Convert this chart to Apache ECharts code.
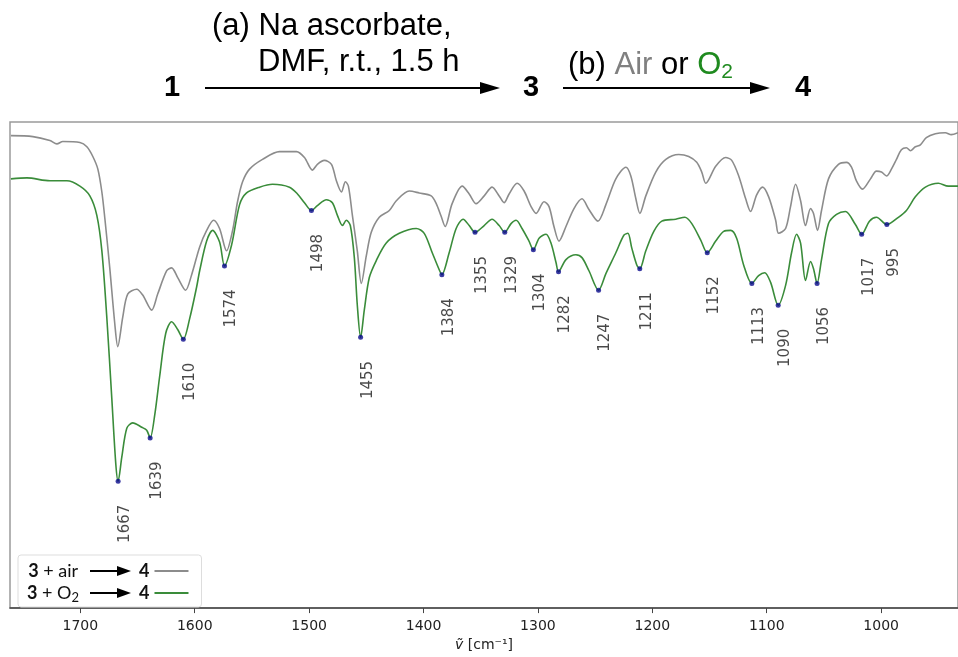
<!DOCTYPE html>
<html>
<head>
<meta charset="utf-8">
<script src="https://cdn.jsdelivr.net/npm/echarts@6/dist/echarts.min.js"></script>
<style>
html, body { margin: 0; padding: 0; background: #fff; }
#chart { width: 958px; height: 657px; }
</style>
</head>
<body>
<div id="chart"></div>
<script>
// 光谱数据：3 + air -> 4
var airWn = [1760.7, 1741.5, 1726.6, 1720.5, 1715.3, 1700.4, 1694.3, 1689.1, 1684.7, 1681.2, 1678.6, 1674.3, 1669.9, 1667.3, 1662.9, 1658.6, 1650.7, 1645.5, 1637.6, 1632.4, 1624.5, 1620.2, 1614.9, 1608.0, 1602.7, 1595.7, 1589.6, 1583.5, 1578.3, 1572.2, 1566.9, 1562.6, 1558.2, 1552.1, 1540.8, 1525.9, 1511.1, 1504.1, 1497.1, 1492.8, 1486.7, 1480.5, 1476.2, 1471.8, 1468.3, 1465.7, 1462.2, 1457.9, 1454.4, 1450.0, 1445.7, 1438.7, 1429.9, 1423.8, 1412.5, 1403.8, 1393.3, 1388.9, 1384.6, 1381.1, 1375.0, 1366.2, 1360.1, 1354.0, 1347.0, 1340.1, 1333.9, 1329.6, 1325.2, 1318.2, 1312.1, 1306.0, 1301.6, 1294.7, 1290.3, 1286.0, 1281.6, 1275.5, 1268.5, 1261.5, 1255.4, 1247.6, 1240.6, 1231.9, 1223.1, 1218.8, 1214.4, 1210.9, 1205.7, 1197.0, 1188.2, 1176.9, 1168.2, 1161.2, 1156.8, 1153.3, 1144.6, 1135.9, 1130.6, 1124.5, 1118.4, 1114.1, 1108.8, 1103.6, 1098.3, 1092.2, 1089.6, 1083.5, 1079.2, 1074.8, 1070.4, 1066.1, 1061.7, 1059.1, 1055.6, 1052.1, 1046.0, 1037.3, 1030.3, 1025.9, 1021.6, 1016.3, 1009.3, 1004.1, 999.7, 995.3, 991.0, 986.6, 982.3, 977.9, 974.4, 970.1, 965.7, 960.5, 952.6, 943.9, 938.7, 932.8];
var airT = [97.2, 97.0, 96.2, 95.5, 96.0, 95.8, 94.9, 92.9, 90.3, 85.6, 80.2, 70.0, 58.5, 53.8, 59.9, 64.6, 65.6, 64.4, 61.3, 64.6, 69.4, 70.0, 68.0, 65.4, 68.6, 74.3, 77.7, 79.8, 78.1, 73.5, 77.7, 83.6, 87.7, 90.3, 92.3, 93.9, 93.9, 92.7, 90.1, 91.3, 92.1, 91.3, 87.9, 85.6, 87.7, 86.8, 80.8, 73.5, 66.8, 72.5, 77.3, 80.4, 81.8, 83.8, 85.8, 85.4, 84.8, 83.2, 80.6, 78.5, 83.2, 86.8, 85.2, 83.2, 84.8, 86.6, 84.8, 83.4, 85.2, 87.4, 85.8, 82.6, 81.2, 83.6, 82.6, 78.5, 75.5, 78.5, 82.2, 84.2, 82.0, 79.6, 83.0, 88.3, 90.7, 88.9, 84.2, 81.2, 84.8, 89.7, 92.3, 93.3, 92.9, 91.7, 89.7, 87.4, 90.9, 92.7, 92.1, 88.9, 84.2, 81.6, 85.0, 86.6, 84.6, 79.8, 77.1, 78.1, 82.6, 87.2, 83.8, 78.7, 82.2, 81.2, 77.7, 81.8, 88.3, 91.3, 91.7, 90.7, 87.9, 86.2, 88.3, 89.9, 89.7, 88.9, 90.3, 92.3, 94.3, 94.7, 94.1, 94.9, 95.3, 96.8, 97.6, 97.8, 97.4, 97.8];

// 光谱数据：3 + O2 -> 4
var o2Wn = [1760.7, 1746.7, 1726.6, 1711.8, 1700.4, 1691.7, 1685.6, 1681.2, 1676.9, 1672.5, 1669.0, 1667, 1663.8, 1659.4, 1654.2, 1646.3, 1642.0, 1639, 1635.0, 1630.6, 1625.4, 1620.2, 1614.9, 1610, 1604.5, 1598.4, 1595.7, 1589.6, 1584.4, 1578.3, 1574, 1567.8, 1560.8, 1554.7, 1543.4, 1532.0, 1517.2, 1510.2, 1504.1, 1498, 1492.8, 1484.9, 1479.7, 1475.3, 1470.9, 1467.5, 1464.0, 1460.5, 1457.9, 1455, 1451.8, 1447.4, 1441.3, 1432.6, 1421.2, 1406.4, 1399.4, 1392.4, 1386.3, 1384, 1377.6, 1371.5, 1365.4, 1360.1, 1355, 1347.0, 1340.1, 1333.9, 1329, 1323.5, 1319.1, 1313.9, 1307.8, 1304, 1299.0, 1292.9, 1288.6, 1284.2, 1282, 1275.5, 1266.8, 1261.5, 1255.4, 1247, 1240.6, 1231.9, 1224.9, 1221.4, 1218.0, 1213.6, 1211, 1205.7, 1198.7, 1191.7, 1179.5, 1171.6, 1165.5, 1157.7, 1152, 1144.6, 1137.6, 1131.5, 1126.3, 1120.2, 1113, 1107.1, 1101.8, 1096.6, 1090, 1083.5, 1078.3, 1073.9, 1070.4, 1066.1, 1061.7, 1059.1, 1056, 1052.1, 1046.0, 1039.0, 1031.2, 1022.5, 1017, 1010.2, 1004.1, 995, 984.9, 977.9, 970.1, 961.3, 950.0, 941.3, 932.8];
var o2T = [88.3, 88.5, 87.9, 87.9, 86.8, 84.8, 80.8, 73.5, 59.9, 43.1, 29.6, 26.1, 31.0, 37.0, 38.1, 37.2, 36.6, 35.0, 39.7, 47.8, 56.5, 58.9, 57.3, 55.3, 59.5, 66.0, 69.4, 75.5, 77.7, 75.3, 70.4, 74.7, 83.0, 85.4, 86.6, 87.2, 86.6, 85.2, 83.4, 81.8, 82.8, 84.0, 83.4, 80.8, 78.7, 79.8, 78.7, 72.1, 62.3, 55.7, 61.3, 68.0, 71.5, 75.1, 77.1, 78.1, 77.1, 73.1, 69.6, 68.6, 73.1, 78.1, 80.0, 78.7, 77.3, 78.7, 80.0, 78.7, 77.3, 79.1, 79.8, 78.1, 75.5, 73.7, 76.1, 76.9, 75.1, 71.1, 69.2, 71.7, 72.7, 72.1, 69.4, 65.4, 68.8, 73.1, 76.7, 77.1, 74.1, 70.6, 69.8, 73.5, 77.5, 79.6, 80.0, 80.4, 79.1, 75.7, 73.1, 75.5, 77.5, 77.7, 76.1, 70.6, 66.8, 68.4, 69.0, 67.0, 62.3, 66.4, 73.1, 76.9, 75.1, 67.4, 71.3, 69.8, 66.8, 71.7, 79.1, 81.0, 81.6, 78.9, 76.9, 79.6, 80.4, 78.9, 80.4, 81.8, 84.6, 86.6, 87.4, 86.8, 86.8];

// 标注的峰位
var peakWn = [1667, 1639, 1610, 1574, 1498, 1455, 1384, 1355, 1329, 1304, 1282, 1247, 1211, 1152, 1113, 1090, 1056, 1017, 995];
var peakT = [26.1, 35.0, 55.3, 70.4, 81.8, 55.7, 68.6, 77.3, 77.3, 73.7, 69.2, 65.4, 69.8, 73.1, 66.8, 62.3, 66.8, 76.9, 78.9];

var tickValues = [1000, 1100, 1200, 1300, 1400, 1500, 1600, 1700];

function pairs(xs, ys) {
  var out = [];
  for (var i = 0; i < xs.length; i++) {
    out.push([xs[i], ys[i]]);
  }
  return out;
}

var chart = echarts.init(document.getElementById('chart'));

var headFont = '"Liberation Sans", Arial, sans-serif';

var legendRich = {
  b: { fontFamily: 'Lato', fontSize: 18, fontWeight: 'bold', color: '#111', lineHeight: 22 },
  sub: { fontFamily: 'Lato', fontSize: 13, color: '#111', lineHeight: 13, verticalAlign: 'bottom' },
  sp1: { width: 61, lineHeight: 22 },
  sp2: { width: 60, lineHeight: 22 }
};

var option = {
  backgroundColor: '#fff',
  animation: false,
  grid: {
    left: 10,
    right: -2,
    top: 122,
    bottom: 41,
    show: true,
    borderColor: '#9a9a9a',
    borderWidth: 1.5
  },
  xAxis: {
    type: 'value',
    min: 932.8,
    max: 1761.5,
    inverse: true,
    name: '{i|ṽ} [cm⁻¹]',
    nameLocation: 'middle',
    nameGap: 29,
    nameTextStyle: {
      fontFamily: 'DejaVu Sans',
      fontSize: 14,
      color: '#222',
      rich: {
        i: { fontFamily: 'DejaVu Sans', fontStyle: 'italic', fontSize: 14, color: '#222' }
      }
    },
    splitLine: { show: false },
    axisLine: { show: true, lineStyle: { color: '#444', width: 1.5 } },
    axisTick: { show: true, length: 5, lineStyle: { color: '#444' }, customValues: tickValues },
    axisLabel: {
      fontFamily: 'DejaVu Sans',
      fontSize: 14,
      color: '#222',
      margin: 11,
      customValues: tickValues,
      formatter: function(v) {
        return String(v);
      }
    }
  },
  yAxis: {
    type: 'value',
    min: 0,
    max: 100,
    show: false
  },
  legend: {
    orient: 'vertical',
    left: 18,
    top: 555,
    align: 'right',
    padding: [5, 13, 3, 9],
    itemGap: 0,
    itemWidth: 34,
    itemHeight: 2,
    borderColor: '#dddddd',
    borderWidth: 1,
    borderRadius: 3,
    backgroundColor: 'rgba(255,255,255,0.8)',
    data: [
      { name: 'air', icon: 'rect' },
      { name: 'o2', icon: 'rect' }
    ],
    formatter: function(name) {
      if (name == 'air') {
        return '{b|3} + air{sp1|}{b|4}';
      }
      return '{b|3} + O{sub|2}{sp2|}{b|4}';
    },
    textStyle: {
      fontFamily: 'Lato',
      fontSize: 18,
      color: '#111',
      lineHeight: 22,
      rich: legendRich
    }
  },
  graphic: [
    // 反应式
    {
      type: 'text', left: 212, top: 11,
      style: { text: '(a) Na ascorbate,', font: '31px ' + headFont, fill: '#000' }
    },
    {
      type: 'text', left: 258, top: 47,
      style: { text: 'DMF, r.t., 1.5 h', font: '31px ' + headFont, fill: '#000' }
    },
    {
      type: 'text', left: 568, top: 50,
      style: {
        text: '(b) {g|Air} or {o|O}{s|2}',
        font: '31px ' + headFont,
        fill: '#000',
        rich: {
          g: { font: '31px ' + headFont, fill: '#808080' },
          o: { font: '31px ' + headFont, fill: '#1f8a1f' },
          s: { font: '21px ' + headFont, fill: '#1f8a1f', padding: [14, 0, 0, 0] }
        }
      }
    },
    { type: 'text', x: 172, y: 88, style: { text: '1', font: 'bold 29px ' + headFont, fill: '#000', align: 'center', verticalAlign: 'middle' } },
    { type: 'text', x: 531, y: 88, style: { text: '3', font: 'bold 29px ' + headFont, fill: '#000', align: 'center', verticalAlign: 'middle' } },
    { type: 'text', x: 803, y: 88, style: { text: '4', font: 'bold 29px ' + headFont, fill: '#000', align: 'center', verticalAlign: 'middle' } },
    { type: 'line', shape: { x1: 205, y1: 88, x2: 484, y2: 88 }, style: { stroke: '#000', lineWidth: 2 } },
    { type: 'polygon', shape: { points: [[480, 82], [500, 88], [480, 94]] }, style: { fill: '#000' } },
    { type: 'line', shape: { x1: 563, y1: 88, x2: 754, y2: 88 }, style: { stroke: '#000', lineWidth: 2 } },
    { type: 'polygon', shape: { points: [[750, 82], [770, 88], [750, 94]] }, style: { fill: '#000' } },
    // 图例中的箭头
    { type: 'line', z: 100, shape: { x1: 90, y1: 571, x2: 120, y2: 571 }, style: { stroke: '#000', lineWidth: 2 } },
    { type: 'polygon', z: 100, shape: { points: [[117, 566], [131, 571], [117, 576]] }, style: { fill: '#000' } },
    { type: 'line', z: 100, shape: { x1: 90, y1: 593, x2: 120, y2: 593 }, style: { stroke: '#000', lineWidth: 2 } },
    { type: 'polygon', z: 100, shape: { points: [[117, 588], [131, 593], [117, 598]] }, style: { fill: '#000' } }
  ],
  series: [
    {
      name: 'air',
      type: 'line',
      data: pairs(airWn, airT),
      symbol: 'none',
      smooth: 0.3,
      lineStyle: { color: '#8c8c8c', width: 1.6 },
      itemStyle: { color: '#8c8c8c' }
    },
    {
      name: 'o2',
      type: 'line',
      data: pairs(o2Wn, o2T),
      symbol: 'none',
      smooth: 0.3,
      lineStyle: { color: '#3a8c3a', width: 1.6 },
      itemStyle: { color: '#3a8c3a' }
    },
    {
      name: 'peaks',
      type: 'scatter',
      data: pairs(peakWn, peakT),
      symbolSize: 5,
      itemStyle: { color: '#0a0a8c' },
      z: 5,
      label: {
        show: true,
        position: 'bottom',
        distance: 21,
        offset: [0, 7],
        rotate: 90,
        align: 'right',
        verticalAlign: 'middle',
        fontFamily: 'DejaVu Sans',
        fontSize: 15,
        color: '#1a1a1a',
        formatter: function(p) {
          return String(p.value[0]);
        }
      }
    }
  ]
};

chart.setOption(option);
</script>
</body>
</html>
